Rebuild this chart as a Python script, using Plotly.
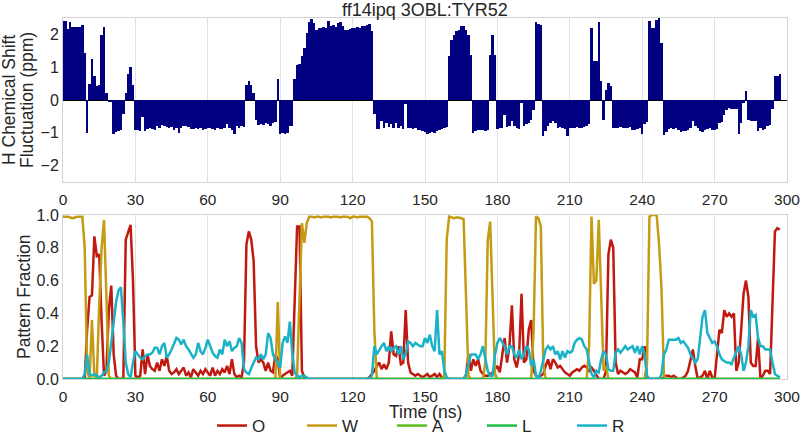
import plotly.graph_objects as go

# ---------------- data ----------------
time_ns = list(range(298))

h_shift = [
    2.4, 2.4, 2.17, 2.37, 2.24, 2.22, 2.22, 2.22, 2.3, 1.43,
    -1.0, 0.5, 1.26, 0.73, 0.42, 0.45, 1.97, 2.24, 0.22, -0.05,
    -0.05, -1.04, -0.97, -0.95, -0.92, -0.43, 0.22, 0.78, 1.01, 0.47,
    -0.9, -0.92, -0.95, -0.52, -0.93, -0.88, -0.85, -0.87, -0.9, -0.8,
    -0.84, -0.75, -0.8, -0.82, -0.84, -0.83, -0.9, -0.85, -1.0, -0.85,
    -0.78, -0.8, -0.83, -0.88, -0.89, -0.85, -0.88, -0.86, -0.9, -0.88,
    -0.84, -0.86, -0.88, -0.9, -0.86, -0.89, -0.87, -0.84, -0.72, -0.85,
    -0.9, -1.04, -0.8, -0.85, -0.8, -0.83, 0.47, 0.58, 0.47, 0.2,
    -0.6, -0.75, -0.72, -0.75, -0.7, -0.72, -0.78, -0.7, -0.68, 0.63,
    -1.05, -1.02, -1.03, -1.0, -0.8, -0.78, 0.63, 1.08, 1.1, 1.33,
    1.6, 2.04, 2.39, 2.47, 2.34, 2.14, 2.19, 2.2, 2.22, 2.2,
    2.41, 2.25, 2.3, 2.22, 2.36, 2.37, 2.25, 2.14, 2.13, 2.16,
    2.19, 2.21, 2.23, 2.2, 2.25, 2.26, 2.3, 2.32, 2.09, -0.43,
    -0.89, -0.88, -0.65, -0.84, -0.7, -0.82, -0.72, -0.86, -0.7, -0.85,
    -0.78, -0.88, -0.13, -0.86, -0.85, -0.88, -0.86, -0.9, -0.92, -0.95,
    -0.98, -1.03, -1.0, -0.97, -1.02, -0.95, -0.9, -0.87, -0.84, -0.83,
    1.33, 1.84, 1.99, 2.09, 2.14, 2.27, 2.27, 2.14, 1.99, 1.38,
    -1.02, -0.94, -0.9, -0.92, -0.9, -0.93, -0.92, 1.38, 1.97, 1.38,
    -0.88, -0.84, -0.85, -0.45, -0.83, -0.8, -0.64, -0.78, -0.86, -0.88,
    -0.1, -0.8, -0.74, -0.7, -0.62, -0.3, 2.37, 2.32, 2.28, -1.09,
    -0.94, -0.8, -0.69, -0.64, -0.7, -0.85, -0.82, -0.85, -0.87, -1.09,
    -0.84, -0.85, -0.84, -0.83, -0.84, -0.84, -0.83, -0.8, -0.74, 2.21,
    1.18, 1.18, 2.39, 0.58, -0.62, 0.32, 0.52, 0.42, -0.84, -0.85,
    -0.84, -0.82, -0.85, -0.84, -0.86, -0.83, -0.9, -0.9, -0.88, -0.86,
    -1.04, -0.72, -0.68, 2.41, 2.19, 2.2, 2.45, 2.5, 1.74, -1.06,
    -0.98, -0.88, -0.85, -0.87, -0.86, -0.92, -0.98, -0.96, -0.94, -0.9,
    -0.85, -0.65, -0.8, -0.85, -0.95, -0.97, -0.9, -0.88, -0.85, -0.9,
    -0.92, -0.88, -0.7, -0.66, -0.45, -0.3, -0.25, -0.27, -0.28, -0.28,
    -1.04, -0.7, -0.08, 0.27, -0.6, -0.63, -0.65, -0.63, -0.94, -0.85,
    -0.9, -0.87, -0.8, -0.75, -0.28, 0.73, 0.73, 0.78,
]

frac_O = [
    0, 0, 0, 0, 0, 0, 0, 0, 0, 0,
    0.3, 0.5, 0.51, 0.87, 0.75, 0.76, 0.35, 0.02, 0.05, 0.42,
    0.57, 0.15, 0.02, 0.0, 0.0, 0.01, 0.85, 0.9, 0.94, 0.6,
    0.02, 0.01, 0.02, 0.18, 0.03, 0.15, 0.08, 0.06, 0.05, 0.1,
    0.05, 0.12, 0.08, 0.14, 0.05, 0.03, 0.04, 0.06, 0.03, 0.05,
    0.07, 0.02, 0.04, 0.01, 0.06, 0.04, 0.02, 0.05, 0.03, 0.06,
    0.04, 0.02, 0.07, 0.02, 0.05, 0.03, 0.06, 0.04, 0.08, 0.03,
    0.12, 0.03, 0.01, 0.02, 0.01, 0.1, 0.82, 0.9, 0.85, 0.72,
    0.2, 0.1, 0.12, 0.1, 0.05, 0.1, 0.05, 0.04, 0.15, 0.12,
    0.0, 0.02, 0.03, 0.04, 0.05, 0.02, 0.45, 0.93, 0.93, 0.05,
    0.01, 0, 0, 0, 0, 0, 0, 0, 0, 0,
    0, 0, 0, 0, 0, 0, 0, 0, 0, 0,
    0, 0, 0, 0, 0, 0, 0, 0.01, 0.03, 0.05,
    0.08, 0.1, 0.06, 0.09, 0.06, 0.1, 0.29, 0.15, 0.14, 0.2,
    0.09, 0.1, 0.42, 0.1, 0.04, 0.03, 0.02, 0.03, 0.02, 0.01,
    0.02, 0.03, 0.01, 0.02, 0.03, 0.01, 0.03, 0.01, 0.0, 0.0,
    0, 0, 0, 0, 0, 0, 0, 0.02, 0.15, 0.05,
    0.12, 0.08, 0.12, 0.05, 0.03, 0.02, 0.02, 0.03, 0.04, 0.06,
    0.08, 0.04, 0.15, 0.25, 0.1, 0.2, 0.45, 0.12, 0.07, 0.15,
    0.52, 0.1, 0.12, 0.3, 0.36, 0.05, 0.02, 0.01, 0.02, 0.03,
    0.08, 0.12, 0.06, 0.12, 0.1, 0.07, 0.08, 0.06, 0.04, 0.03,
    0.02, 0.04, 0.05, 0.06, 0.05, 0.07, 0.08, 0.07, 0.05, 0.07,
    0.05, 0.02, 0.0, 0.0, 0.0, 0.05, 0.76, 0.85, 0.8, 0.1,
    0.03, 0.05, 0.04, 0.03, 0.04, 0.06, 0.05, 0.04, 0.01, 0.12,
    0.12, 0.2, 0.0, 0, 0, 0, 0, 0, 0, 0.01,
    0.02, 0.02, 0.01, 0.02, 0.01, 0.0, 0.0, 0.01, 0.02, 0.05,
    0.12, 0.18, 0.08, 0.0, 0.01, 0.02, 0.05, 0.0, 0.05, 0.01,
    0.0, 0.15, 0.3, 0.28, 0.42, 0.38, 0.4, 0.38, 0.4, 0.05,
    0.1, 0.3, 0.52, 0.6, 0.5, 0.1, 0.08, 0.08, 0.25, 0.0,
    0.02, 0.05, 0.05, 0.03, 0.5, 0.9, 0.92, 0.91,
]

frac_W = [
    0.99, 0.99, 0.99, 0.985, 0.98, 0.985, 0.99, 0.99, 0.99, 0.8,
    0.05, 0.0, 0.36, 0.02, 0.0, 0.45, 0.8, 0.97, 0.5, 0.02,
    0, 0, 0, 0, 0, 0, 0, 0, 0, 0,
    0, 0, 0, 0, 0, 0, 0, 0, 0, 0,
    0, 0, 0, 0, 0, 0, 0, 0, 0, 0,
    0, 0, 0, 0, 0, 0, 0, 0, 0, 0,
    0, 0, 0, 0, 0, 0, 0, 0, 0, 0,
    0, 0, 0, 0, 0, 0, 0, 0, 0, 0,
    0, 0, 0, 0, 0, 0, 0, 0, 0.0, 0.47,
    0, 0, 0, 0, 0, 0, 0, 0.02, 0.45, 0.95,
    0.83, 0.95, 0.99, 0.99, 0.985, 0.99, 0.99, 0.985, 0.99, 0.99,
    0.99, 0.985, 0.99, 0.99, 0.99, 0.985, 0.99, 0.99, 0.99, 0.98,
    0.99, 0.99, 0.985, 0.99, 0.99, 0.99, 0.99, 0.98, 0.96, 0.3,
    0.01, 0, 0, 0, 0, 0, 0, 0, 0, 0,
    0, 0, 0, 0, 0, 0, 0, 0, 0, 0,
    0, 0, 0, 0, 0, 0, 0, 0, 0.02, 0.85,
    0.99, 0.985, 0.98, 0.985, 0.985, 0.98, 0.975, 0.5, 0.02, 0,
    0, 0, 0, 0, 0, 0.1, 0.85, 0.96, 0.55, 0.03,
    0, 0, 0, 0, 0, 0, 0, 0, 0, 0,
    0, 0, 0, 0, 0, 0.3, 0.99, 0.98, 0.93, 0.1,
    0, 0, 0, 0, 0, 0, 0, 0, 0, 0,
    0, 0, 0, 0, 0, 0, 0, 0, 0.2, 0.99,
    0.58, 0.6, 0.97, 0.5, 0.05, 0.08, 0, 0, 0, 0,
    0, 0, 0, 0, 0, 0, 0, 0, 0, 0,
    0, 0, 0.1, 0.99, 1.0, 1.0, 1.0, 0.82, 0.55, 0.02,
    0, 0, 0, 0, 0, 0, 0, 0, 0, 0,
    0, 0, 0, 0, 0, 0, 0, 0, 0, 0,
    0, 0, 0, 0, 0, 0, 0, 0, 0, 0,
    0, 0, 0, 0, 0, 0, 0, 0, 0, 0,
    0, 0, 0, 0, 0, 0, 0, 0,
]

frac_R = [
    0, 0, 0, 0, 0, 0, 0, 0, 0, 0.03,
    0.15, 0.03, 0.02, 0.03, 0.02, 0.01, 0.02, 0.04, 0.05, 0.1,
    0.22, 0.35, 0.47, 0.54, 0.56, 0.35, 0.1, 0.03, 0.01, 0.1,
    0.17, 0.15, 0.13, 0.12, 0.14, 0.15, 0.15, 0.16, 0.19, 0.19,
    0.15, 0.2, 0.22, 0.13, 0.15, 0.18, 0.22, 0.25, 0.24, 0.21,
    0.24, 0.2, 0.18, 0.15, 0.13, 0.15, 0.22, 0.17, 0.15, 0.19,
    0.24, 0.2, 0.16, 0.14, 0.13, 0.18, 0.15, 0.24, 0.2, 0.23,
    0.17, 0.19, 0.2, 0.25, 0.22, 0.06, 0.04, 0.03, 0.07, 0.1,
    0.13, 0.12, 0.15, 0.12, 0.15, 0.28, 0.25, 0.15, 0.12, 0.1,
    0.07, 0.22, 0.26, 0.22, 0.35, 0.16, 0.04, 0.02, 0.01, 0.02,
    0.02, 0.01, 0, 0, 0, 0, 0, 0, 0, 0,
    0, 0, 0, 0, 0, 0, 0, 0, 0, 0,
    0, 0, 0, 0, 0, 0, 0, 0, 0.02, 0.2,
    0.15, 0.18, 0.2, 0.22, 0.17, 0.2, 0.17, 0.19, 0.2, 0.15,
    0.2, 0.12, 0.15, 0.23, 0.22, 0.2, 0.22, 0.21, 0.2, 0.2,
    0.25, 0.22, 0.27, 0.2, 0.17, 0.42, 0.15, 0.17, 0.05, 0.01,
    0, 0, 0, 0, 0, 0, 0, 0.03, 0.1, 0.15,
    0.15, 0.15, 0.12, 0.15, 0.2, 0.12, 0.05, 0.02, 0.02, 0.15,
    0.22, 0.25, 0.22, 0.2, 0.15, 0.2, 0.2, 0.15, 0.13, 0.18,
    0.12, 0.15, 0.2, 0.18, 0.08, 0.12, 0.02, 0.0, 0.05, 0.12,
    0.18, 0.2, 0.18, 0.2, 0.15, 0.17, 0.12, 0.17, 0.13, 0.17,
    0.16, 0.17, 0.22, 0.24, 0.25, 0.24, 0.2, 0.18, 0.1, 0.03,
    0.01, 0.05, 0.04, 0.12, 0.17, 0.15, 0.06, 0.05, 0.05, 0.16,
    0.18, 0.16, 0.18, 0.2, 0.18, 0.19, 0.2, 0.16, 0.2, 0.15,
    0.2, 0.15, 0.02, 0, 0, 0, 0, 0, 0.03, 0.15,
    0.18, 0.24, 0.24, 0.24, 0.24, 0.25, 0.22, 0.23, 0.21, 0.19,
    0.15, 0.12, 0.1, 0.12, 0.25, 0.38, 0.42, 0.28, 0.25, 0.22,
    0.23, 0.2, 0.15, 0.12, 0.11, 0.1, 0.1, 0.09, 0.13, 0.17,
    0.2, 0.15, 0.05, 0.1, 0.2, 0.42, 0.38, 0.39, 0.25, 0.2,
    0.2, 0.18, 0.18, 0.18, 0.1, 0.03, 0.02, 0.01,
]

# A and L patterns stay at zero over the whole trajectory
frac_A = [0.0] * len(time_ns)
frac_L = [0.0] * len(time_ns)

series_names = ["O", "W", "A", "L", "R"]
x_ticks = [0, 30, 60, 90, 120, 150, 180, 210, 240, 270, 300]

# ---------------- figure ----------------
colors = {"O": "#c0190f", "W": "#c49b12", "A": "#5cbc1f", "L": "#1fbe4a", "R": "#19b2c6"}
values = {"O": frac_O, "W": frac_W, "A": frac_A, "L": frac_L, "R": frac_R}

FONT = "Liberation Sans, Arial, sans-serif"
TXT = "#262626"
GRID = "#e2e2e2"
FRAME = "#d2d2d2"
LABEL_SIZE = 17.5

fig = go.Figure()
fig.add_trace(go.Bar(
    x=time_ns, y=h_shift, width=1.0,
    marker=dict(color="#000080", line=dict(width=0)),
    xaxis="x", yaxis="y", showlegend=False,
))
for name in series_names:
    fig.add_trace(go.Scatter(
        x=time_ns, y=values[name], mode="lines", name=name,
        line=dict(color=colors[name], width=2.5),
        xaxis="x2", yaxis="y2",
    ))

W_PX, H_PX = 800, 438
xdom = [63 / W_PX, 787 / W_PX]
top_dom = [1 - 182 / H_PX, 1 - 18 / H_PX]
bot_dom = [1 - 379 / H_PX, 1 - 215 / H_PX]


def axis_common(size, standoff=0):
    return dict(showline=True, linecolor=FRAME, linewidth=1, mirror=True,
                ticks="", tickfont=dict(family=FONT, size=size, color=TXT),
                ticklabeloverflow="allow", ticklabelstandoff=standoff,
                automargin=False)


def ann(text, px_x, px_y, angle=0, size=LABEL_SIZE):
    return dict(text=text, x=px_x / W_PX, y=1 - px_y / H_PX, xref="paper",
                yref="paper", xanchor="center", yanchor="middle",
                showarrow=False, textangle=angle,
                font=dict(family=FONT, size=size, color=TXT))


fig.update_layout(
    width=W_PX, height=H_PX,
    margin=dict(l=0, r=0, t=0, b=0, autoexpand=False),
    paper_bgcolor="white", plot_bgcolor="white",
    bargap=0,
    font=dict(family=FONT, color=TXT),
    xaxis=dict(domain=xdom, range=[0, 300], tickvals=x_ticks, showgrid=True,
               gridcolor=GRID, zeroline=False, anchor="y", **axis_common(15.5, 3)),
    yaxis=dict(domain=top_dom, range=[-2.5, 2.5], tickvals=[-2, -1, 0, 1, 2],
               showgrid=False, zeroline=True, zerolinecolor="black",
               zerolinewidth=1.2, anchor="x", **axis_common(16)),
    xaxis2=dict(domain=xdom, range=[0, 300], tickvals=x_ticks, showgrid=True,
                gridcolor=GRID, zeroline=False, anchor="y2", **axis_common(15.5, 3)),
    yaxis2=dict(domain=bot_dom, range=[0, 1], tickvals=[0, 0.2, 0.4, 0.6, 0.8, 1.0],
                tickformat=".1f", showgrid=False, zeroline=False, anchor="x2",
                **axis_common(16)),
    legend=dict(orientation="h", x=212 / W_PX, xanchor="left", y=1 - 426 / H_PX,
                yanchor="middle", font=dict(family=FONT, size=17, color=TXT),
                entrywidth=45, entrywidthmode="pixels", bgcolor="rgba(0,0,0,0)"),
    annotations=[
        ann("ff14ipq 3OBL:TYR52", 425, 10, size=18),
        ann("H Chemical Shift", 9, 100, -90),
        ann("Fluctuation (ppm)", 27, 100, -90),
        ann("Pattern Fraction", 24, 297, -90),
        ann("Time (ns)", 425, 412),
    ],
)

fig.write_html(
    "out.html",
    config={"displayModeBar": False},
    post_script="document.body.style.margin='0';document.body.style.overflow='hidden';",
)
